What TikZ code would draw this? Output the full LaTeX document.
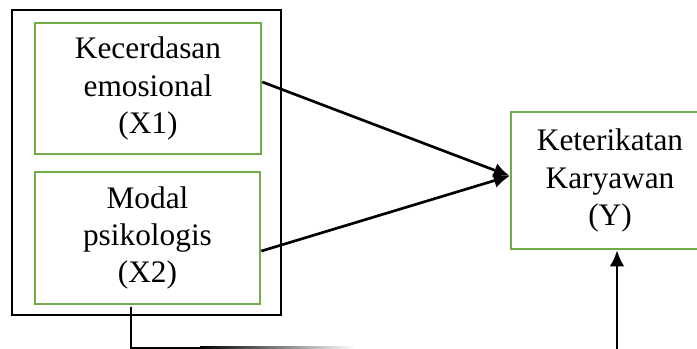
\documentclass[tikz,border=0pt]{standalone}
\usepackage{fontspec}
\setmainfont{Liberation Serif}
\usetikzlibrary{positioning,arrows.meta}
\definecolor{boxgreen}{RGB}{112,173,71}

\begin{document}
\begin{tikzpicture}[x=0.75pt, y=-0.75pt,
    var/.style={rectangle, draw=boxgreen, line width=1.9pt, align=center, inner sep=0pt, font=\fontsize{23.5}{27.8}\selectfont},
    link/.style={line width=2pt, -{Latex[length=12pt,width=11pt]}}
]
\useasboundingbox (0,0) rectangle (697,349);
\clip (0,0) rectangle (697,349);

% Outer frame round the independent variables
\draw[line width=1.3pt] (12,10) rectangle (281,315);

% Variables
\node[var, minimum width=169.5pt, minimum height=98.3pt] (x1) at (148,88.5) {Kecerdasan\\emosional\\(X1)};
\node[var, minimum width=168.8pt, minimum height=99pt] (x2) at (147.5,238) {Modal\\psikologis\\(X2)};
\node[var, minimum width=148.5pt, minimum height=102.8pt] (y) at (610,180.5) {Keterikatan\\Karyawan\\(Y)};

% Paths
\coordinate (yin) at ([yshift=3.4pt]y.west);
\draw[link] ([yshift=4.9pt]x1.east) -- (yin);
\draw[link] ([yshift=-9.8pt]x2.east) -- (yin);

\coordinate (ybot) at (617,349);
\draw[link] (ybot) -- (ybot |- y.south);

\coordinate (turn) at (131,348);
\draw[line width=1.5pt] (131,307) -- (turn) -- (200,348);
\shade[left color=black, right color=white] (200,347) rectangle (355,349);

\end{tikzpicture}
\end{document}
